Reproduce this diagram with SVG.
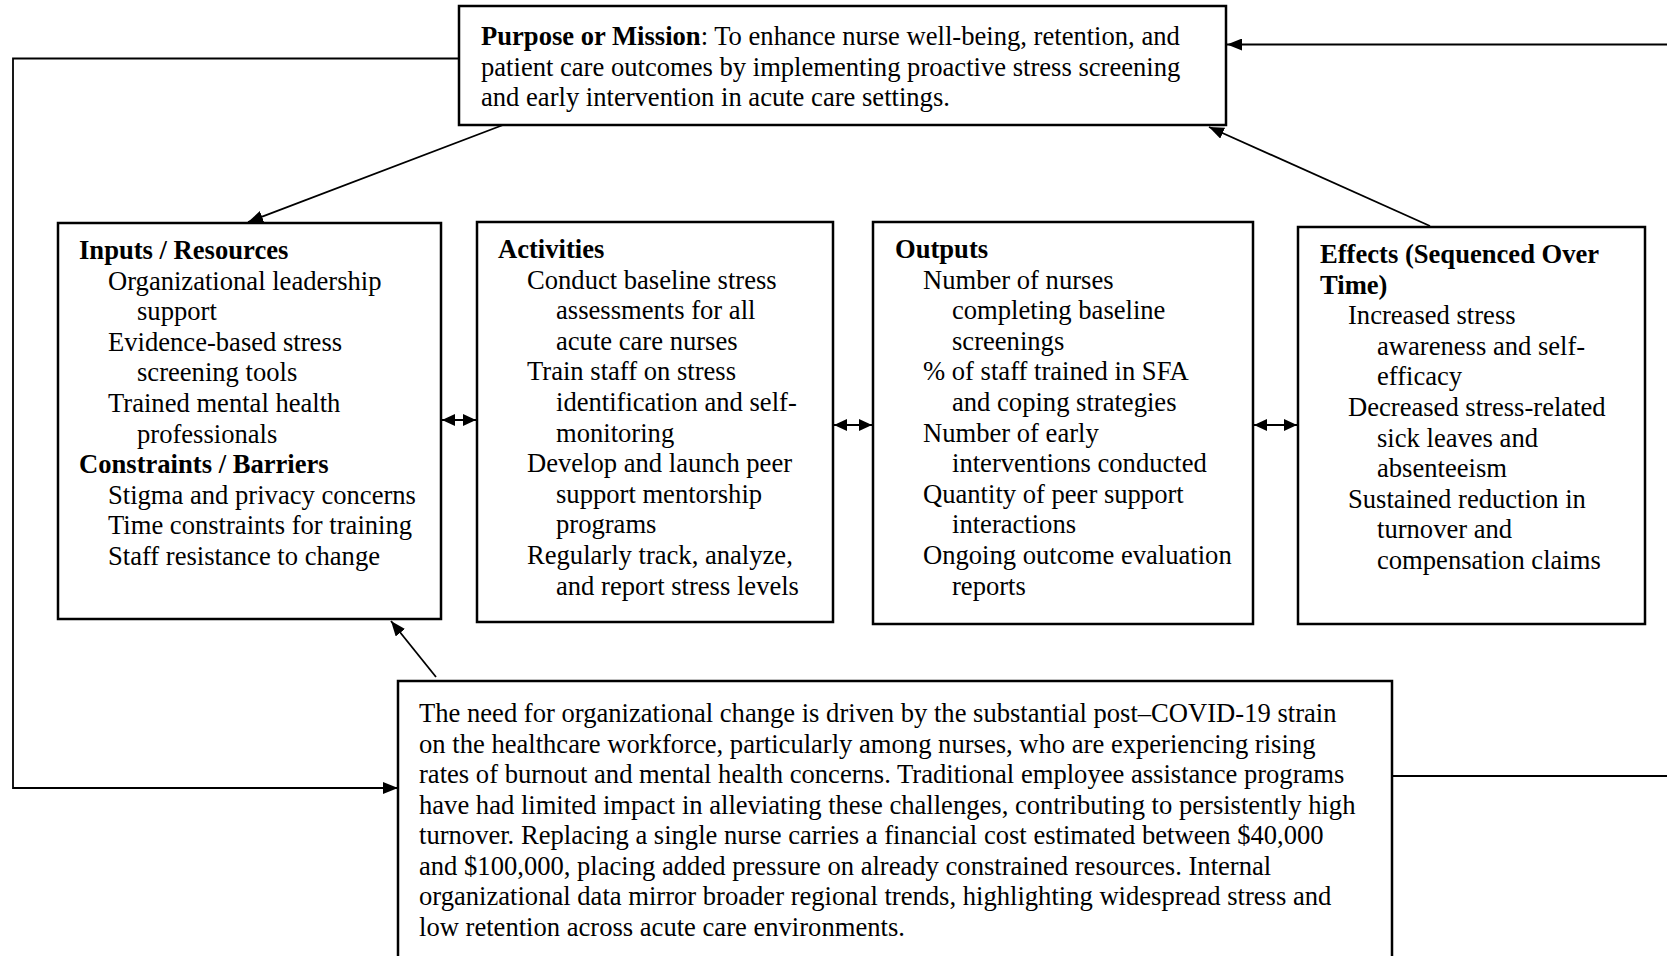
<svg xmlns="http://www.w3.org/2000/svg" width="1667" height="956" viewBox="0 0 1667 956">
<defs>
<style>
.box{fill:#fff;stroke:#000;stroke-width:2.5}
.ln{fill:none;stroke:#000;stroke-width:1.8}
.t{font-family:"Liberation Serif","Times New Roman",serif;font-size:26.6px;fill:#000}
.b{font-weight:bold}
</style>
<marker id="ah" markerUnits="userSpaceOnUse" markerWidth="16" markerHeight="12" refX="15" refY="6" orient="auto-start-reverse">
<path d="M0,0 L15,6 L0,12 z" fill="#000"/>
</marker>
<marker id="sh" markerUnits="userSpaceOnUse" markerWidth="13" markerHeight="12" refX="13" refY="6" orient="auto-start-reverse">
<path d="M0,0 L13,6 L0,12 z" fill="#000"/>
</marker>
</defs>
<rect width="1667" height="956" fill="#fff"/>

<g id="connectors">
<polyline class="ln" points="459,58.5 13,58.5 13,789"/>
<line class="ln" x1="13" y1="788" x2="398" y2="788" marker-end="url(#ah)"/>
<line class="ln" x1="1667" y1="44.5" x2="1227" y2="44.5" marker-end="url(#ah)"/>
<line class="ln" x1="503" y1="125" x2="248" y2="222" marker-end="url(#ah)"/>
<line class="ln" x1="1430" y1="226" x2="1209" y2="127" marker-end="url(#ah)"/>
<line class="ln" x1="436" y1="677" x2="391" y2="621" marker-end="url(#ah)"/>
<line class="ln" x1="1392" y1="776" x2="1667" y2="776"/>
<line class="ln" x1="442" y1="420" x2="476" y2="420" marker-start="url(#sh)" marker-end="url(#sh)"/>
<line class="ln" x1="834" y1="425" x2="872" y2="425" marker-start="url(#sh)" marker-end="url(#sh)"/>
<line class="ln" x1="1254" y1="425" x2="1297" y2="425" marker-start="url(#sh)" marker-end="url(#sh)"/>
</g>

<g id="purpose">
<rect class="box" x="459" y="6" width="767" height="119"/>
<text class="t" x="481" y="45"><tspan class="b">Purpose or Mission</tspan>: To enhance nurse well-being, retention, and</text>
<text class="t" x="481" y="75.5">patient care outcomes by implementing proactive stress screening</text>
<text class="t" x="481" y="106">and early intervention in acute care settings.</text>
</g>

<g id="inputs">
<rect class="box" x="58" y="223" width="383" height="396"/>
<text class="t b" x="79" y="259">Inputs / Resources</text>
<text class="t" x="108" y="289.6">Organizational leadership</text>
<text class="t" x="137" y="320.2">support</text>
<text class="t" x="108" y="350.8">Evidence-based stress</text>
<text class="t" x="137" y="381.4">screening tools</text>
<text class="t" x="108" y="412">Trained mental health</text>
<text class="t" x="137" y="442.6">professionals</text>
<text class="t b" x="79" y="473.2">Constraints / Barriers</text>
<text class="t" x="108" y="503.8">Stigma and privacy concerns</text>
<text class="t" x="108" y="534.4">Time constraints for training</text>
<text class="t" x="108" y="565">Staff resistance to change</text>
</g>

<g id="activities">
<rect class="box" x="477" y="222" width="356" height="400"/>
<text class="t b" x="498" y="258">Activities</text>
<text class="t" x="527" y="288.6">Conduct baseline stress</text>
<text class="t" x="556" y="319.2">assessments for all</text>
<text class="t" x="556" y="349.8">acute care nurses</text>
<text class="t" x="527" y="380.4">Train staff on stress</text>
<text class="t" x="556" y="411">identification and self-</text>
<text class="t" x="556" y="441.6">monitoring</text>
<text class="t" x="527" y="472.2">Develop and launch peer</text>
<text class="t" x="556" y="502.8">support mentorship</text>
<text class="t" x="556" y="533.4">programs</text>
<text class="t" x="527" y="564">Regularly track, analyze,</text>
<text class="t" x="556" y="594.6">and report stress levels</text>
</g>

<g id="outputs">
<rect class="box" x="873" y="222" width="380" height="402"/>
<text class="t b" x="895" y="258">Outputs</text>
<text class="t" x="923" y="288.6">Number of nurses</text>
<text class="t" x="952" y="319.2">completing baseline</text>
<text class="t" x="952" y="349.8">screenings</text>
<text class="t" x="923" y="380.4">% of staff trained in SFA</text>
<text class="t" x="952" y="411">and coping strategies</text>
<text class="t" x="923" y="441.6">Number of early</text>
<text class="t" x="952" y="472.2">interventions conducted</text>
<text class="t" x="923" y="502.8">Quantity of peer support</text>
<text class="t" x="952" y="533.4">interactions</text>
<text class="t" x="923" y="564">Ongoing outcome evaluation</text>
<text class="t" x="952" y="594.6">reports</text>
</g>

<g id="effects">
<rect class="box" x="1298" y="227" width="347" height="397"/>
<text class="t b" x="1320" y="263">Effects (Sequenced Over</text>
<text class="t b" x="1320" y="293.6">Time)</text>
<text class="t" x="1348" y="324.2">Increased stress</text>
<text class="t" x="1377" y="354.8">awareness and self-</text>
<text class="t" x="1377" y="385.4">efficacy</text>
<text class="t" x="1348" y="416">Decreased stress-related</text>
<text class="t" x="1377" y="446.6">sick leaves and</text>
<text class="t" x="1377" y="477.2">absenteeism</text>
<text class="t" x="1348" y="507.8">Sustained reduction in</text>
<text class="t" x="1377" y="538.4">turnover and</text>
<text class="t" x="1377" y="569">compensation claims</text>
</g>

<g id="context">
<rect class="box" x="398" y="681" width="994" height="300"/>
<text class="t" x="419" y="722">The need for organizational change is driven by the substantial post–COVID-19 strain</text>
<text class="t" x="419" y="752.5">on the healthcare workforce, particularly among nurses, who are experiencing rising</text>
<text class="t" x="419" y="783">rates of burnout and mental health concerns. Traditional employee assistance programs</text>
<text class="t" x="419" y="813.5">have had limited impact in alleviating these challenges, contributing to persistently high</text>
<text class="t" x="419" y="844">turnover. Replacing a single nurse carries a financial cost estimated between $40,000</text>
<text class="t" x="419" y="874.5">and $100,000, placing added pressure on already constrained resources. Internal</text>
<text class="t" x="419" y="905">organizational data mirror broader regional trends, highlighting widespread stress and</text>
<text class="t" x="419" y="935.5">low retention across acute care environments.</text>
</g>
</svg>
